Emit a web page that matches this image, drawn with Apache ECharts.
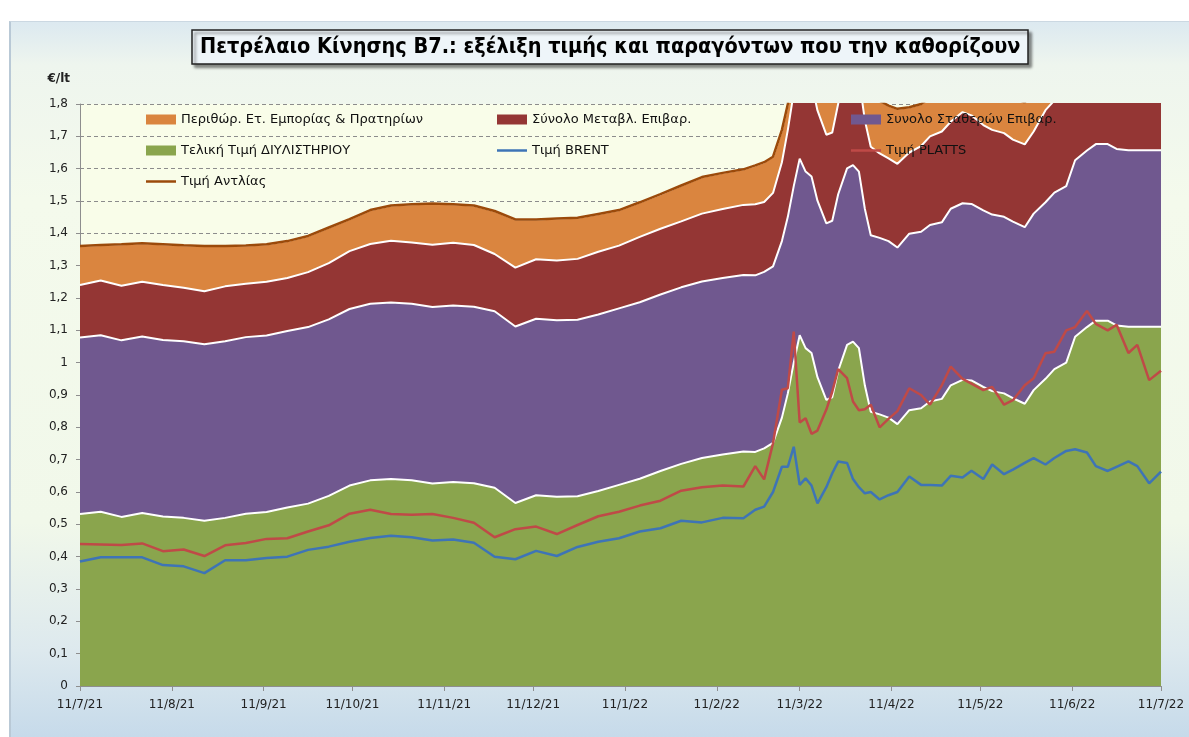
<!DOCTYPE html>
<html>
<head>
<meta charset="utf-8">
<title>Πετρέλαιο Κίνησης Β7</title>
<script src="https://cdn.jsdelivr.net/npm/echarts@6/dist/echarts.min.js"></script>
<style>
  html, body { margin: 0; padding: 0; background: #fff; }
  #wrap { position: relative; width: 1189px; height: 737px; overflow: hidden; }
  #frame {
    position: absolute; left: 9px; top: 21px; right: 0; bottom: 0;
    border-left: 2px solid #b9c9d6; border-top: 1px solid #cbd8e2;
    background: linear-gradient(to bottom, #dce9f0 0%, #eef5ee 6%, #f4faec 25%, #f1f8ea 70%, #dde9ee 88%, #c6daea 100%);
  }
  #chart { position: absolute; left: 0; top: 0; width: 1189px; height: 737px; }
</style>
</head>
<body>
<div id="wrap">
  <div id="frame"></div>
  <div id="chart"></div>
</div>
<script>
// ημερομηνίες δειγμάτων (εβδομαδιαία, πυκνότερα από 24/2/22)
const dates = [
  '2021-07-11','2021-07-18','2021-07-25','2021-08-01','2021-08-08','2021-08-15','2021-08-22','2021-08-29',
  '2021-09-05','2021-09-12','2021-09-19','2021-09-26','2021-10-03','2021-10-10','2021-10-17','2021-10-24',
  '2021-10-31','2021-11-07','2021-11-14','2021-11-21','2021-11-28','2021-12-05','2021-12-12','2021-12-19',
  '2021-12-26','2022-01-02','2022-01-09','2022-01-16','2022-01-23','2022-01-30','2022-02-06','2022-02-13',
  '2022-02-20',
  '2022-02-24','2022-02-27','2022-03-02','2022-03-05','2022-03-07','2022-03-09','2022-03-11','2022-03-13',
  '2022-03-15','2022-03-17','2022-03-20','2022-03-22','2022-03-24','2022-03-27','2022-03-29','2022-03-31',
  '2022-04-02','2022-04-04','2022-04-07','2022-04-10','2022-04-13','2022-04-17','2022-04-21','2022-04-24',
  '2022-04-28','2022-05-01','2022-05-05','2022-05-08','2022-05-12','2022-05-15','2022-05-19','2022-05-22',
  '2022-05-26','2022-05-29','2022-06-02','2022-06-05','2022-06-09','2022-06-12','2022-06-16','2022-06-19',
  '2022-06-23','2022-06-26','2022-06-30','2022-07-03','2022-07-07','2022-07-11'
];

// Τελική Τιμή ΔΙΥΛΙΣΤΗΡΙΟΥ
const refinery = [
  0.532,0.539,0.523,0.535,0.524,0.520,0.511,0.520,0.533,0.538,0.552,0.564,0.588,0.620,0.636,0.640,
  0.636,0.626,0.631,0.627,0.613,0.566,0.590,0.585,0.587,0.603,0.622,0.641,0.665,0.687,0.705,0.716,
  0.725,
  0.724,0.735,0.752,0.830,0.905,1.000,1.085,1.045,1.030,0.955,0.885,0.893,0.975,1.055,1.065,1.045,
  0.930,0.848,0.840,0.830,0.810,0.853,0.859,0.880,0.888,0.930,0.947,0.945,0.925,0.912,0.905,0.890,
  0.873,0.915,0.950,0.980,1.000,1.080,1.110,1.130,1.130,1.115,1.111,1.111,1.111,1.111
];

// Συνολο Σταθερών Επιβαρ.
const fixedTax = [
  0.546,0.546,0.546,0.546,0.546,0.546,0.546,0.546,0.546,0.546,0.546,0.546,0.546,0.546,0.546,0.546,
  0.546,0.546,0.546,0.546,0.546,0.546,0.546,0.546,0.546,0.546,0.546,0.546,0.546,0.546,0.546,0.546,
  0.546,
  0.546,0.546,0.546,0.546,0.546,0.546,0.546,0.546,0.546,0.546,0.546,0.546,0.546,0.546,0.546,0.546,
  0.546,0.546,0.546,0.546,0.546,0.546,0.546,0.546,0.546,0.546,0.546,0.546,0.546,0.546,0.546,0.546,
  0.546,0.546,0.546,0.546,0.546,0.546,0.546,0.546,0.546,0.546,0.546,0.546,0.546,0.546
];

// Σύνολο Μεταβλ. Επιβαρ.
const variableTax = [
  0.162,0.169,0.169,0.169,0.170,0.166,0.164,0.170,0.165,0.166,0.164,0.170,0.174,0.179,0.185,0.191,
  0.190,0.193,0.194,0.191,0.177,0.182,0.184,0.185,0.188,0.194,0.194,0.202,0.203,0.204,0.210,0.213,
  0.217,
  0.220,0.216,0.227,0.244,0.269,0.290,0.300,0.300,0.290,0.279,0.274,0.273,0.280,0.290,0.290,0.290,
  0.274,0.274,0.261,0.256,0.259,0.251,0.265,0.274,0.281,0.269,0.282,0.274,0.264,0.262,0.259,0.254,
  0.256,0.254,0.285,0.285,0.290,0.300,0.300,0.300,0.300,0.300,0.300,0.300,0.300,0.300
];

// Περιθώρ. Ετ. Εμπορίας & Πρατηρίων
const margin = [
  0.121,0.110,0.128,0.119,0.126,0.131,0.140,0.125,0.118,0.116,0.114,0.112,0.110,0.099,0.105,0.109,
  0.118,0.127,0.119,0.122,0.133,0.149,0.123,0.130,0.127,0.117,0.110,0.107,0.107,0.111,0.113,0.112,
  0.110,
  0.120,0.123,0.112,0.100,0.080,0.100,0.110,0.120,0.120,0.120,0.140,0.140,0.130,0.120,0.120,0.120,
  0.120,0.162,0.163,0.163,0.170,0.140,0.130,0.120,0.135,0.135,0.130,0.130,0.130,0.130,0.130,0.130,
  0.130,0.130,0.130,0.130,0.130,0.130,0.130,0.130,0.130,0.130,0.130,0.130,0.130,0.130
];

// Τιμή Αντλίας
const pump = [
  1.361,1.364,1.366,1.369,1.366,1.363,1.361,1.361,1.362,1.366,1.376,1.392,1.418,1.444,1.472,1.486,
  1.490,1.492,1.490,1.486,1.469,1.443,1.443,1.446,1.448,1.460,1.472,1.496,1.521,1.548,1.574,1.587,
  1.598,
  1.610,1.620,1.637,1.720,1.800,1.936,2.041,2.011,1.986,1.900,1.845,1.852,1.931,2.011,2.021,2.001,
  1.870,1.830,1.810,1.795,1.785,1.790,1.800,1.820,1.850,1.880,1.905,1.895,1.865,1.850,1.840,1.820,
  1.805,1.845,1.911,1.941,1.966,2.056,2.086,2.106,2.106,2.091,2.087,2.087,2.087,2.087
];

// Τιμή PLATTS
const platts = [
  0.439,0.438,0.436,0.441,0.417,0.422,0.402,0.435,0.442,0.455,0.457,0.478,0.497,0.533,0.545,0.532,
  0.530,0.532,0.520,0.505,0.460,0.485,0.493,0.470,0.498,0.525,0.539,0.558,0.573,0.604,0.615,0.620,
  0.617,
  0.680,0.639,0.751,0.916,0.921,1.096,0.815,0.828,0.780,0.790,0.855,0.910,0.980,0.952,0.880,0.853,
  0.856,0.870,0.800,0.826,0.850,0.921,0.900,0.870,0.930,0.988,0.950,0.935,0.915,0.925,0.870,0.884,
  0.930,0.952,1.029,1.034,1.100,1.110,1.160,1.120,1.100,1.117,1.030,1.055,0.946,0.975
];

// Τιμή BRENT
const brent = [
  0.385,0.398,0.398,0.398,0.374,0.370,0.349,0.389,0.389,0.396,0.400,0.421,0.431,0.446,0.458,0.465,
  0.460,0.450,0.453,0.443,0.400,0.392,0.418,0.402,0.430,0.446,0.457,0.478,0.488,0.511,0.506,0.520,
  0.519,
  0.545,0.555,0.600,0.678,0.678,0.740,0.622,0.642,0.620,0.565,0.615,0.658,0.694,0.690,0.640,0.615,
  0.596,0.600,0.577,0.590,0.600,0.648,0.622,0.622,0.620,0.650,0.645,0.666,0.640,0.685,0.655,0.669,
  0.690,0.705,0.685,0.705,0.727,0.732,0.722,0.680,0.665,0.678,0.695,0.680,0.627,0.663
];

// ετικέτες άξονα x (11 κάθε μήνα)
const tickDates = [
  '2021-07-11','2021-08-11','2021-09-11','2021-10-11','2021-11-11','2021-12-11','2022-01-11',
  '2022-02-11','2022-03-11','2022-04-11','2022-05-11','2022-06-11','2022-07-11'
];

const N_MARGIN = 'Περιθώρ. Ετ. Εμπορίας & Πρατηρίων';
const N_VAR = 'Σύνολο Μεταβλ. Επιβαρ.';
const N_FIXED = 'Συνολο Σταθερών Επιβαρ.';
const N_REF = 'Τελική Τιμή ΔΙΥΛΙΣΤΗΡΙΟΥ';
const N_BRENT = 'Τιμή BRENT';
const N_PLATTS = 'Τιμή PLATTS';
const N_PUMP = 'Τιμή Αντλίας';

const C = {
  ref: '#8aa54d', fixed: '#70588f', vari: '#943634', margin: '#da853f',
  pump: '#9b4a0a', platts: '#bf4a47', brent: '#3e74b6'
};

const DAY = 86400000;
function ts(s) {
  const p = s.split('-').map(Number);
  return Date.UTC(p[0], p[1] - 1, p[2]);
}
const t0 = ts(dates[0]);
const t1 = ts(dates[dates.length - 1]);
// ημέρες από 11/7/21, για τον άξονα με τις ετικέτες
const tickDays = tickDates.map(d => Math.round((ts(d) - t0) / DAY));

function pairs(arr) {
  return dates.map((d, i) => [ts(d), arr[i]]);
}
function area(name, arr, color) {
  return {
    name: name, type: 'line', stack: 'total', symbol: 'none', data: pairs(arr),
    lineStyle: { color: '#ffffff', width: 2 },
    areaStyle: { color: color, opacity: 1 },
    itemStyle: { color: color },
    z: 2
  };
}
function line(name, arr, color) {
  return {
    name: name, type: 'line', symbol: 'none', data: pairs(arr),
    lineStyle: { color: color, width: 2.5 },
    itemStyle: { color: color },
    z: 3
  };
}

const font = 'DejaVu Sans';
const lineIcon = 'path://M0,0H30V2.5H0Z';
const legendBase = {
  orient: 'vertical', itemWidth: 30, itemHeight: 10, itemGap: 18, selectedMode: false,
  padding: 0, symbolKeepAspect: true,
  textStyle: { fontFamily: font, fontSize: 13, color: '#111' }
};

const chart = echarts.init(document.getElementById('chart'));
chart.setOption({
  animation: false,
  title: {
    text: 'Πετρέλαιο Κίνησης Β7.: εξέλιξη τιμής και παραγόντων που την καθορίζουν',
    left: 192, top: 30,
    padding: [6, 8, 6, 8],
    backgroundColor: '#eef5f9',
    borderColor: '#222', borderWidth: 1.5,
    shadowColor: 'rgba(0,0,0,0.45)', shadowBlur: 3, shadowOffsetX: 3, shadowOffsetY: 3,
    textStyle: {
      fontFamily: "'DejaVu Sans Condensed', 'Liberation Sans Narrow', sans-serif",
      fontWeight: 'bold', fontSize: 21.5, color: '#000'
    }
  },
  legend: [
    Object.assign({}, legendBase, { left: 146, top: 113, data: [
      { name: N_MARGIN, icon: 'rect', itemStyle: { color: C.margin } },
      { name: N_REF, icon: 'rect', itemStyle: { color: C.ref } },
      { name: N_PUMP, icon: lineIcon, itemStyle: { color: C.pump, borderWidth: 0 } }
    ] }),
    Object.assign({}, legendBase, { left: 497, top: 113, data: [
      { name: N_VAR, icon: 'rect', itemStyle: { color: C.vari } },
      { name: N_BRENT, icon: lineIcon, itemStyle: { color: C.brent, borderWidth: 0 } }
    ] }),
    Object.assign({}, legendBase, { left: 851, top: 113, data: [
      { name: N_FIXED, icon: 'rect', itemStyle: { color: C.fixed } },
      { name: N_PLATTS, icon: lineIcon, itemStyle: { color: C.platts, borderWidth: 0 } }
    ] })
  ],
  grid: {
    left: 80, right: 28, top: 104, bottom: 51,
    show: true, backgroundColor: '#f9fde9', borderWidth: 0
  },
  xAxis: [
    {
      // άξονας δεδομένων (χρόνος), κρυφός
      type: 'time', min: t0, max: t1, show: false
    },
    {
      // άξονας ετικετών: ημέρες από 11/7/21
      type: 'value', position: 'bottom',
      min: 0, max: Math.round((t1 - t0) / DAY),
      axisLine: { show: true, lineStyle: { color: '#8e8e8e', width: 1 } },
      axisTick: { show: true, length: 5, lineStyle: { color: '#8e8e8e' }, customValues: tickDays },
      axisLabel: {
        customValues: tickDays,
        margin: 13, fontFamily: font, fontSize: 12, color: '#222',
        formatter: function (v) {
          const d = new Date(t0 + Math.round(v) * DAY);
          return d.getUTCDate() + '/' + (d.getUTCMonth() + 1) + '/' + String(d.getUTCFullYear()).slice(2);
        }
      },
      splitLine: { show: false }
    }
  ],
  yAxis: {
    type: 'value', min: 0, max: 1.8, interval: 0.1,
    name: '€/lt', nameLocation: 'end', nameGap: 19,
    nameTextStyle: { fontFamily: font, fontSize: 12, fontWeight: 'bold', color: '#222', align: 'right', padding: [0, 10, 0, 0] },
    axisLine: { show: true, lineStyle: { color: '#8e8e8e', width: 1 } },
    axisTick: { show: true, length: 4, lineStyle: { color: '#8e8e8e' } },
    axisLabel: {
      margin: 12, fontFamily: font, fontSize: 12, color: '#222',
      formatter: function (v) { return String(Number(v.toFixed(1))).replace('.', ','); }
    },
    splitLine: { show: true, lineStyle: { color: '#8c8c8c', type: [4, 3], width: 1 } }
  },
  series: [
    area(N_REF, refinery, C.ref),
    area(N_FIXED, fixedTax, C.fixed),
    area(N_VAR, variableTax, C.vari),
    area(N_MARGIN, margin, C.margin),
    line(N_PUMP, pump, C.pump),
    line(N_BRENT, brent, C.brent),
    line(N_PLATTS, platts, C.platts)
  ]
});
</script>
</body>
</html>
